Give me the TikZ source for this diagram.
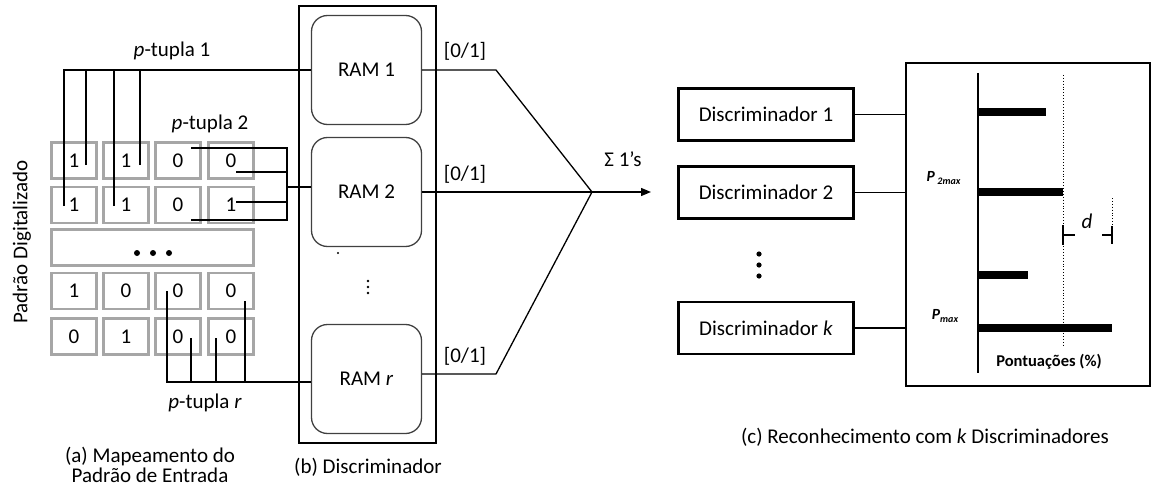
\documentclass[tikz,border=0pt]{standalone}
\usepackage{fontspec}
\setmainfont{Carlito}
\usetikzlibrary{arrows.meta}
\begin{document}
\begin{tikzpicture}[x=1pt,y=-1pt,
  every node/.style={font=\fontsize{21}{20}\selectfont, inner sep=0pt},
  cell/.style={draw=black!35, line width=2.6pt, minimum width=45, minimum height=36},
  wire/.style={draw=black, line width=1.3pt},
  rambox/.style={draw=black!75, line width=1.3pt, rounded corners=16pt, minimum width=110, minimum height=109},
  frame/.style={draw=black, line width=1.6pt},
  discbox/.style={draw=black, line width=2.2pt, minimum width=175, minimum height=52},
  bar/.style={line width=8pt, draw=black},
  small/.style={font=\fontsize{16.5}{18}\selectfont\bfseries},
  plabel/.style={font=\fontsize{15.5}{16}\selectfont\bfseries\itshape}
]
\useasboundingbox (0,0) rectangle (1159,492);

% ---------- (a) grid ----------
\node[cell] (c11) at (74,160.5) {1};
\node[cell] (c12) at (126,160.5) {1};
\node[cell] (c13) at (178,160.5) {0};
\node[cell] (c14) at (231,160.5) {0};
\node[cell] (c21) at (74,205) {1};
\node[cell] (c22) at (126,205) {1};
\node[cell] (c23) at (178,205) {0};
\node[cell] (c24) at (231,205) {1};
\node[cell, minimum width=202, minimum height=36] (c3) at (152.5,247.5) {};
\fill (137,253) circle (3) (153,253) circle (3) (169,253) circle (3);
\node[cell] (c41) at (74,291) {1};
\node[cell] (c42) at (126,291) {0};
\node[cell] (c43) at (178,291) {0};
\node[cell] (c44) at (231,291) {0};
\node[cell] (c51) at (74,336.5) {0};
\node[cell] (c52) at (126,336.5) {1};
\node[cell] (c53) at (178,336.5) {0};
\node[cell] (c54) at (231,336.5) {0};

\node[rotate=90] (pd) at (22,242) {Padrão Digitalizado};

% ---------- (b) discriminator ----------
\node[frame, minimum width=137, minimum height=437] (disc) at (367.5,224.5) {};
\node[rambox] (ram1) at (366.5,70) {RAM 1};
\node[rambox] (ram2) at (366.5,192) {RAM 2};
\node[rambox] (ramr) at (366.5,379) {RAM \textit{r}};
\fill (338,253) circle (1.1);
\fill (368,281) circle (1.3) (368,287) circle (1.3) (368,293) circle (1.3);

% p-tupla 1
\coordinate (j1) at (64,70);
\draw[wire] (64,206) -- (j1) -- (ram1.west);
\draw[wire] (86,165) -- (86,70);
\draw[wire] (114,206) -- (114,70);
\draw[wire] (140,165) -- (140,70);
\node (pt1) at (172,51) {\textit{p}-tupla 1};

% p-tupla 2
\draw[wire] (191,148) -- (287,148) -- (287,220) -- (191,220);
\draw[wire] (236,172) -- (287,172);
\draw[wire] (236,202) -- (287,202);
\coordinate (j2) at (287,187);
\draw[wire] (j2) -- (j2 -| ram2.west);
\node (pt2) at (210,124) {\textit{p}-tupla 2};

% p-tupla r
\coordinate (j3) at (167,382);
\draw[wire] (167,291) -- (j3) -- (j3 -| ramr.west);
\draw[wire] (191,338) -- (191,382);
\draw[wire] (216,338) -- (216,382);
\draw[wire] (245,301) -- (245,382);
\node (ptr) at (205,403) {\textit{p}-tupla \textit{r}};

% outputs
\coordinate (o1) at (496,70);
\coordinate (o3) at (496,374);
\coordinate (s) at (592,192);
\coordinate (out) at (651,192);
\draw[wire] (ram1.east) -- (o1) -- (s);
\draw[wire] (ram2.east) -- (s);
\draw[wire] (o3 -| ramr.east) -- (o3) -- (s);
\draw[wire, -{Triangle[length=10pt,width=8pt]}] (s) -- (out);
\node (b1) at (465,51) {[0/1]};
\node (b2) at (465,174) {[0/1]};
\node (b3) at (465,356) {[0/1]};
\node (sum) at (623,159) {Σ 1’s};

\node[align=center] (capa) at (150,465) {(a) Mapeamento do\\Padrão de Entrada};
\node (capb) at (368,467) {(b) Discriminador};

% ---------- (c) recognition ----------
\node[discbox] (d1) at (766,114.5) {Discriminador 1};
\node[discbox] (d2) at (766,192.5) {Discriminador 2};
\node[discbox] (dk) at (766,328) {Discriminador \textit{k}};
\fill (759,254) circle (2.6) (759,265) circle (2.6) (759,276) circle (2.6);

\node[frame, minimum width=244, minimum height=323] (chart) at (1028,224.5) {};
\draw[wire] (d1.east) -- (d1.east -| chart.west);
\draw[wire] (d2.east) -- (d2.east -| chart.west);
\draw[wire] (dk.east) -- (dk.east -| chart.west);

\draw[wire] (978,73) -- (978,373);
\draw[bar] (978,112) -- (1046,112);
\draw[bar] (978,192) -- (1063,192);
\draw[bar] (978,275) -- (1028,275);
\draw[bar] (978,328) -- (1112,328);
\draw[dotted, line width=0.9pt] (1063,75) -- (1063,345);
\draw[dotted, line width=0.9pt] (1112,198) -- (1112,226);
\draw[wire] (1063,225) -- (1063,245);
\draw[wire] (1063,235) -- (1075,235);
\draw[wire] (1102,235) -- (1112,235);
\draw[wire] (1112,226) -- (1112,244);
\node (dd) at (1087,221) {\textit{d}};

\node[plabel] (p2) at (943.5,178) {P\,\raisebox{-0.3ex}{\fontsize{10}{11}\selectfont 2max}};
\node[plabel] (pm) at (945,316) {P\raisebox{-0.45ex}{\fontsize{10}{11}\selectfont max}};
\node[small] (pont) at (1049,362) {Pontuações (\%)};

\node (capc) at (925,437) {(c) Reconhecimento com \textit{k} Discriminadores};
\end{tikzpicture}
\end{document}
